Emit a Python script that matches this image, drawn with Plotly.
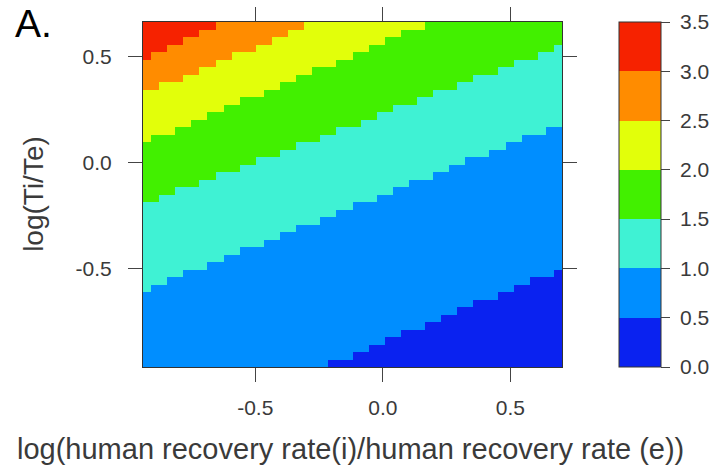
import numpy as np
import plotly.graph_objects as go

# Axis extents (data units)
x_range = [-0.94, 0.702]
y_range = [-0.966, 0.665]

# Colour levels
levels = [0.0, 0.5, 1.0, 1.5, 2.0, 2.5, 3.0, 3.5]
level_colors = ["#0a22f0", "#008eff", "#3ff2d4", "#42f000", "#e2ff0a", "#ff8c00", "#f62200"]
cbar_ticks = [0.0, 0.5, 1.0, 1.5, 2.0, 2.5, 3.0, 3.5]
cbar_ticktext = ["0.0", "0.5", "1.0", "1.5", "2.0", "2.5", "3.0", "3.5"]

# Contour boundaries: two points on each boundary line
bound_level = [0.5, 1.0, 1.5, 2.0, 2.5, 3.0]
bound_x0 = [-0.242, -0.94, -0.94, -0.94, -0.94, -0.94]
bound_y0 = [-0.966, -0.606, -0.195, 0.093, 0.325, 0.480]
bound_x1 = [0.70, 0.70, 0.70, 0.189, -0.262, -0.634]
bound_y1 = [-0.502, 0.188, 0.551, 0.665, 0.665, 0.665]

x_ticks = [-0.5, 0.0, 0.5]
x_ticktext = ["-0.5", "0.0", "0.5"]
y_ticks = [-0.5, 0.0, 0.5]
y_ticktext = ["-0.5", "0.0", "0.5"]

# Grid of cells (like a level plot)
nx, ny = 52, 46
dx = (x_range[1] - x_range[0]) / nx
dy = (y_range[1] - y_range[0]) / ny
xs = x_range[0] + dx * (np.arange(nx) + 0.5)
ys = y_range[0] + dy * (np.arange(ny) + 0.5)

X, Y = np.meshgrid(xs, ys)
idx = np.zeros_like(X, dtype=int)
for lv, x0, y0, x1, y1 in zip(bound_level, bound_x0, bound_y0, bound_x1, bound_y1):
    slope = (y1 - y0) / (x1 - x0)
    yb = y0 + slope * (X - x0)
    idx += (Y > yb).astype(int)
Z = np.array(levels)[idx] + 0.25

n = len(level_colors)
colorscale = []
for i, c in enumerate(level_colors):
    colorscale.append([i / n, c])
    colorscale.append([(i + 1) / n, c])

font_family = "Liberation Sans, Arial, sans-serif"
txt_col = "#3a3a3a"

fig = go.Figure()
fig.add_trace(go.Heatmap(
    x=xs, y=ys, z=Z, zmin=0, zmax=3.5, colorscale=colorscale,
    hoverinfo="skip",
    colorbar=dict(
        x=1.135, xanchor="left", xref="paper",
        y=0.5, yanchor="middle", len=1.0, lenmode="fraction",
        thickness=42, thicknessmode="pixels",
        outlinewidth=1, outlinecolor="#333",
        tickmode="array", tickvals=cbar_ticks,
        ticktext=["\u00a0" + t for t in cbar_ticktext],
        ticks="outside", ticklen=9, tickwidth=1, tickcolor="#444",
        tickfont=dict(family=font_family, size=21, color=txt_col),
        ypad=0, xpad=0,
    ),
))

axis_common = dict(
    showgrid=False, zeroline=False, showline=True, linecolor="#333", linewidth=1,
    mirror="ticks", ticks="outside", ticklen=14, tickwidth=1.2, tickcolor="#444",
    tickfont=dict(family=font_family, size=21, color=txt_col),
)
fig.update_layout(
    width=717, height=473,
    margin=dict(l=143, r=155, t=22, b=106, autoexpand=False),
    paper_bgcolor="white", plot_bgcolor="white",
    xaxis=dict(range=x_range, tickmode="array", tickvals=x_ticks, ticktext=x_ticktext,
               ticklabelstandoff=8, **axis_common),
    yaxis=dict(range=y_range, tickmode="array", tickvals=y_ticks, ticktext=y_ticktext,
               ticklabelstandoff=12, **axis_common),
    showlegend=False,
)

fig.add_annotation(
    text="log(human recovery rate(i)/human recovery rate (e))",
    xref="paper", yref="paper", x=0.495, y=-0.237, xanchor="center", yanchor="middle",
    showarrow=False, font=dict(family=font_family, size=29, color=txt_col),
)
fig.add_annotation(
    text="log(Ti/Te)", textangle=-90,
    xref="paper", yref="paper", x=-0.26, y=0.502, xanchor="center", yanchor="middle",
    showarrow=False, font=dict(family=font_family, size=28, color=txt_col),
)
fig.add_annotation(
    text="A.",
    xref="paper", yref="paper", x=-0.31, y=0.995, xanchor="left", yanchor="middle",
    showarrow=False, font=dict(family=font_family, size=39, color="#000"),
)

fig.write_html("out.html")
